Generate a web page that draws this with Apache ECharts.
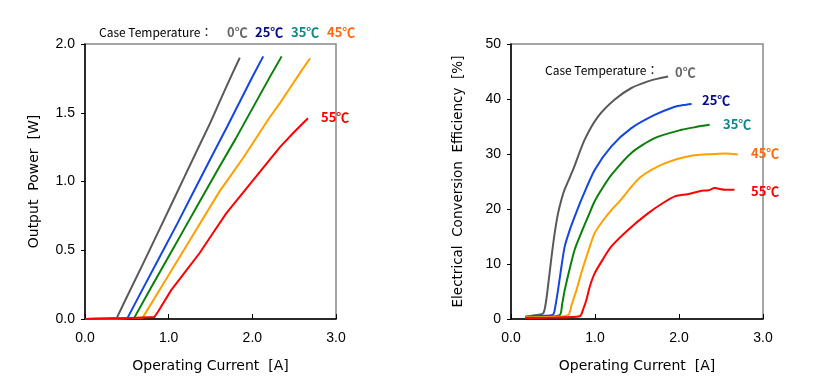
<!DOCTYPE html>
<html><head><meta charset="utf-8">
<script src="https://cdn.jsdelivr.net/npm/echarts@6/dist/echarts.min.js"></script>
<style>html,body{margin:0;padding:0;background:#fff}#c{width:819px;height:383px}</style>
</head><body><div id="c"></div>
<script>
// ---- Data ----
const temps = ['0℃', '25℃', '35℃', '45℃', '55℃'];
// Output power [W] vs operating current [A]
const power0 = [[0,0],[0.2,0.002],[0.38,0.008],[0.5,0.16],[0.7,0.41],[0.9,0.665],[1.1,0.92],[1.17,1.01],[1.35,1.24],[1.5,1.43],[1.66,1.65],[1.75,1.77],[1.85,1.90]];
const power25 = [[0,0],[0.3,0.003],[0.51,0.01],[0.7,0.23],[0.9,0.46],[1.1,0.69],[1.31,0.94],[1.5,1.165],[1.7,1.40],[1.9,1.64],[2.0,1.76],[2.13,1.91]];
const power35 = [[0,0],[0.3,0.003],[0.59,0.01],[0.8,0.24],[1.0,0.455],[1.2,0.67],[1.4,0.885],[1.6,1.10],[1.8,1.31],[2.0,1.53],[2.2,1.75],[2.35,1.91]];
const power45 = [[0,0],[0.4,0.003],[0.69,0.01],[1.0,0.32],[1.3,0.62],[1.61,0.93],[1.75,1.05],[1.9,1.18],[2.05,1.32],[2.2,1.46],[2.33,1.57],[2.45,1.68],[2.57,1.79],[2.69,1.896]];
const power55 = [[0,0],[0.4,0.003],[0.83,0.015],[0.88,0.06],[1.03,0.21],[1.2,0.345],[1.37,0.48],[1.53,0.625],[1.69,0.77],[1.85,0.89],[2.01,1.01],[2.17,1.13],[2.33,1.25],[2.5,1.36],[2.665,1.46]];
// Electrical conversion efficiency [%] vs operating current [A]
const eff0 = [[0.17,0.4],[0.25,0.6],[0.38,1.0],[0.41,2.5],[0.44,5.9],[0.48,11],[0.52,15.6],[0.56,19.2],[0.6,21.7],[0.64,23.6],[0.738,27.1],[0.877,32.6],[1.036,36.8],[1.235,39.9],[1.433,42.0],[1.63,43.2],[1.75,43.7],[1.87,44.1]];
const eff25 = [[0.17,0.4],[0.35,0.55],[0.5,0.8],[0.53,2.5],[0.56,5.3],[0.6,9.5],[0.64,13.2],[0.7,16.2],[0.758,18.6],[0.838,21.7],[0.996,27.1],[1.195,31.4],[1.433,34.7],[1.71,37.1],[1.95,38.6],[2.05,38.9],[2.15,39.1]];
const eff35 = [[0.17,0.3],[0.4,0.4],[0.58,0.7],[0.61,2.8],[0.64,5.3],[0.7,9.2],[0.758,12.6],[0.84,15.8],[0.917,18.6],[0.996,21.4],[1.076,23.5],[1.195,26.2],[1.433,30.2],[1.71,32.9],[2.03,34.4],[2.2,34.9],[2.365,35.3]];
const eff45 = [[0.17,0.3],[0.45,0.35],[0.68,0.7],[0.72,2.5],[0.78,5.3],[0.84,8.5],[0.898,11.3],[0.996,15.6],[1.1,18.0],[1.195,19.8],[1.31,21.7],[1.393,23.3],[1.55,25.9],[1.83,28.3],[2.15,29.7],[2.425,30.0],[2.55,30.1],[2.70,29.9]];
const eff55 = [[0.17,0.2],[0.5,0.25],[0.818,0.5],[0.86,1.8],[0.898,3.5],[0.94,6.0],[0.996,8.3],[1.1,11.0],[1.195,13.2],[1.393,16.2],[1.63,19.2],[1.8,21.0],[1.95,22.3],[2.1,22.7],[2.27,23.3],[2.35,23.4],[2.425,23.8],[2.55,23.5],[2.66,23.5]];

const lineColors = ['#595959', '#1446e0', '#0a800a', '#ffa000', '#ff0000'];
const labelColors = ['#666666', '#0a0a8c', '#108888', '#ff6a10', '#ff0000'];
const powerSets = [power0, power25, power35, power45, power55];
const effSets = [eff0, eff25, eff35, eff45, eff55];

const FONT = '"Noto Sans CJK JP", "Noto Sans", sans-serif';
const NAMEFONT = '"DejaVu Sans", sans-serif';
const TICKFONT = '"Liberation Sans", Arial, sans-serif';
const chart = echarts.init(document.getElementById('c'), null, {renderer: 'canvas'});

function xAxisCfg(idx) {
  return {
    gridIndex: idx, type: 'value', min: 0, max: 3, interval: 1,
    name: 'Operating Current  [A]', nameLocation: 'middle', nameGap: 40,
    nameTextStyle: {fontFamily: NAMEFONT, fontSize: 14, color: '#000'},
    axisLine: {show: true, lineStyle: {color: '#000', width: 1.5}},
    axisTick: {show: true, inside: true, length: 5, lineStyle: {color: '#000'}},
    axisLabel: {formatter: v => v.toFixed(1), fontFamily: TICKFONT, fontSize: 14, color: '#000', margin: 12},
    splitLine: {show: false}
  };
}
function yAxisCfg(idx, max, interval, name, fmt, gap, nsize) {
  return {
    gridIndex: idx, type: 'value', min: 0, max: max, interval: interval,
    name: name, nameLocation: 'middle', nameGap: gap,
    nameTextStyle: {fontFamily: NAMEFONT, fontSize: nsize, color: '#000'},
    axisLine: {show: true, lineStyle: {color: '#000', width: 1.5}},
    axisTick: {show: true, inside: false, length: 4, lineStyle: {color: '#000'}},
    axisLabel: {formatter: fmt, fontFamily: TICKFONT, fontSize: 14, color: '#000', margin: 10},
    splitLine: {show: false}
  };
}

const series = [];
powerSets.forEach((d, i) => series.push({type: 'line', xAxisIndex: 0, yAxisIndex: 0, data: d, showSymbol: false, symbol: 'none', lineStyle: {color: lineColors[i], width: 2}, z: 3 + i}));
effSets.forEach((d, i) => series.push({type: 'line', xAxisIndex: 1, yAxisIndex: 1, data: d, showSymbol: false, symbol: 'none', smooth: 0.25, lineStyle: {color: lineColors[i], width: 2}, z: 3 + i}));

function txt(x, y, text, color, bold, size) {
  return {type: 'text', x: x, y: y, style: {text: text, fill: color, font: (bold ? 'bold ' : '') + size + 'px ' + FONT, textVerticalAlign: 'middle'}};
}

const graphics = [
  txt(99, 32, 'Case Temperature：', '#000', false, 12),
  txt(227, 32, temps[0], labelColors[0], true, 13),
  txt(255, 32, temps[1], labelColors[1], true, 13),
  txt(291, 32, temps[2], labelColors[2], true, 13),
  txt(327, 32, temps[3], labelColors[3], true, 13),
  txt(321, 117, temps[4], labelColors[4], true, 13),
  txt(545, 70, 'Case Temperature：', '#000', false, 12),
  txt(675, 72, temps[0], labelColors[0], true, 13),
  txt(702, 100, temps[1], labelColors[1], true, 13),
  txt(723, 124, temps[2], labelColors[2], true, 13),
  txt(751, 153, temps[3], labelColors[3], true, 13),
  txt(751, 191, temps[4], labelColors[4], true, 13)
];

chart.setOption({
  animation: false,
  backgroundColor: '#fff',
  grid: [
    {left: 85, top: 44, width: 251, height: 275, show: true, borderColor: '#888', borderWidth: 1.5, backgroundColor: 'transparent'},
    {left: 511, top: 44, width: 252, height: 275, show: true, borderColor: '#888', borderWidth: 1.5, backgroundColor: 'transparent'}
  ],
  xAxis: [xAxisCfg(0), xAxisCfg(1)],
  yAxis: [
    yAxisCfg(0, 2, 0.5, 'Output  Power  [W]', v => v.toFixed(1), 44, 14),
    yAxisCfg(1, 50, 10, 'Electrical  Conversion  Efficiency  [%]', v => String(v), 46, 13.5)
  ],
  series: series,
  graphic: graphics
});
</script></body></html>
